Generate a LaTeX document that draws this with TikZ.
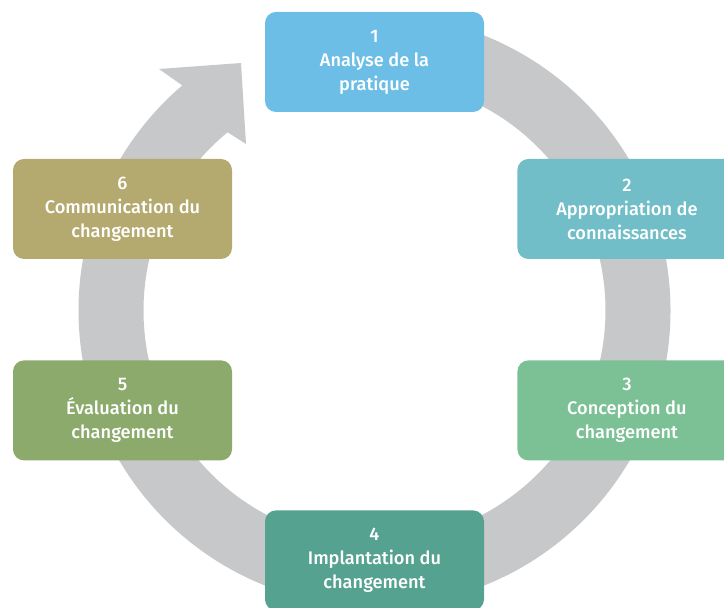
\documentclass[tikz,border=0pt]{standalone}
\usepackage{fontspec}
\setmainfont{Fira Sans}[BoldFont={Fira Sans Medium}]
\usepackage{tikz}
\usetikzlibrary{positioning}
\usetikzlibrary{calc}
\definecolor{ringgray}{HTML}{C7C8CA}
\definecolor{analyse}{HTML}{6CBEE6}
\definecolor{appro}{HTML}{72BEC8}
\definecolor{concep}{HTML}{7CC096}
\definecolor{implant}{HTML}{56A290}
\definecolor{evalu}{HTML}{8BAA6C}
\definecolor{commu}{HTML}{B4AA70}

\begin{document}
\begin{tikzpicture}
		[x=1pt, y=1pt,
		stage/.style={rounded corners=11pt, minimum width=219pt, minimum height=100pt, inner sep=0pt,
			align=center, text=white, font=\fontsize{18.2}{24}\selectfont\bfseries}]
		\useasboundingbox (0,0) rectangle (724,608);
		\coordinate (c) at (374.5,297.5);

		\fill[ringgray] ($(c)+(95:296pt)$) arc[start angle=95, end angle=-229.5, radius=296pt]
			-- (159,539) -- (241,545) -- (246,464)
			-- ($(c)+(-230.5:231pt)$) arc[start angle=-230.5, end angle=95, radius=231pt] -- cycle;

		\node[stage, fill=analyse] (s1) at (374.5,546) {1\\Analyse de la\\pratique};
		\node[stage, fill=commu] (s6) at (122.5,399) {6\\Communication du\\changement};
		\node[stage, fill=evalu, below=101pt of s6] (s5) {5\\Évaluation du\\changement};
		\node[stage, fill=appro, right=285pt of s6] (s2) {2\\Appropriation de\\connaissances};
		\node[stage, fill=concep, right=285pt of s5] (s3) {3\\Conception du\\changement};
		\node[stage, fill=implant, below=398pt of s1] (s4) {4\\Implantation du\\changement};
	\end{tikzpicture}
\end{document}
